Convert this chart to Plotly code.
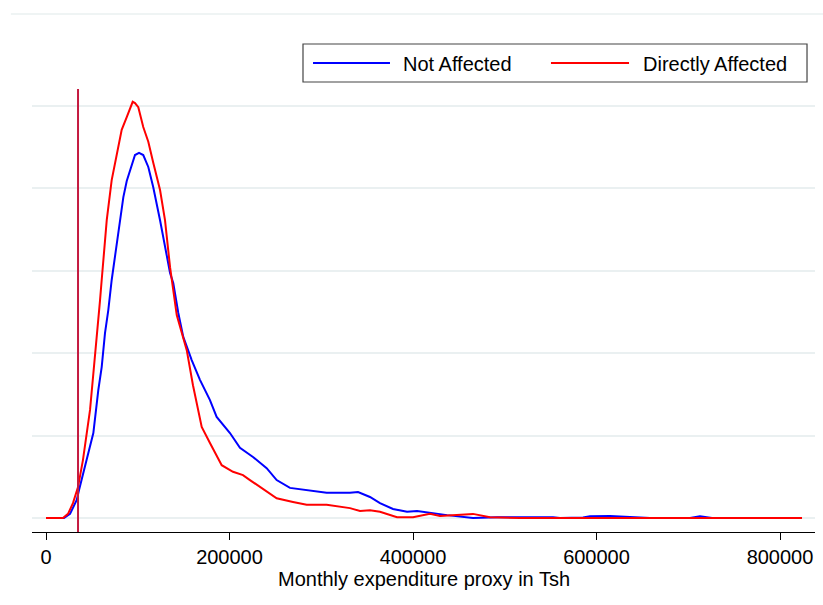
import plotly.graph_objects as go

# Monthly expenditure proxy (Tsh)
not_affected_x = [0, 19600, 26200, 33500, 36000, 44400, 51600, 57000, 60700, 64300,
                  67900, 71600, 78800, 84300, 88000, 91600, 97000, 101400, 106000, 111500, 116900,
                  124300, 129700, 135200, 138700, 144200, 149600, 158800, 167800, 178700, 186000,
                  200500, 211400, 225600, 240500, 251400, 265900, 284100, 305900, 331300, 340100,
                  353100, 364000, 378200, 393500, 404400, 418500, 437100, 465400, 491600, 552600,
                  560200, 585300, 592900, 614700, 625600, 645200, 658300, 701900, 712800, 725900]
# density (x 1e-6)
not_affected_y = [0, 0, 0.10, 0.44, 0.68, 1.41, 2.06, 3.10, 3.66, 4.48,
                  5.04, 5.77, 6.98, 7.78, 8.17, 8.44, 8.80, 8.85, 8.80, 8.51, 8.02,
                  7.22, 6.57, 5.94, 5.70, 4.97, 4.39, 3.83, 3.35, 2.86, 2.45,
                  2.06, 1.70, 1.48, 1.21, 0.92, 0.73, 0.68, 0.61, 0.61, 0.63,
                  0.51, 0.36, 0.22, 0.15, 0.17, 0.12, 0.07, 0.0, 0.02, 0.02,
                  0.0, 0.01, 0.04, 0.05, 0.04, 0.03, 0.0, 0.0, 0.04, 0.0]

directly_x = [0, 18500, 24000, 29400, 34900, 40300, 48000, 51200, 55600, 58900,
              60700, 66200, 71600, 77100, 82500, 88000, 91600, 94500, 97000, 100600,
              106000, 111500, 116900, 124300, 129700, 133000, 135200, 142500, 153400, 160200,
              169700, 178700, 191500, 203800, 214700, 222300, 233200, 251400, 269200, 284100,
              305900, 320400, 331300, 342200, 353100, 364000, 382600, 400000, 418500, 429400,
              465400, 483900, 516600, 824000]
directly_y = [0, 0, 0.10, 0.36, 0.75, 1.41, 2.62, 3.35, 4.48, 5.28,
              5.77, 7.22, 8.19, 8.85, 9.41, 9.72, 9.94, 10.09, 10.06, 9.96,
              9.48, 9.12, 8.61, 7.95, 7.22, 6.50, 6.08, 4.92, 4.07, 3.22,
              2.21, 1.82, 1.28, 1.12, 1.04, 0.92, 0.75, 0.48, 0.39, 0.32,
              0.32, 0.27, 0.24, 0.17, 0.19, 0.15, 0.02, 0.02, 0.10, 0.05,
              0.10, 0.02, 0.0, 0.0]

poverty_line = 34900
x_ticks = [0, 200000, 400000, 600000, 800000]
x_tick_labels = ["0", "200000", "400000", "600000", "800000"]
y_grid = [0, 2, 4, 6, 8, 10]

FONT = "Liberation Sans, Arial, sans-serif"
GRID = "#eaf0f1"

fig = go.Figure()
fig.add_trace(go.Scatter(x=not_affected_x, y=not_affected_y, mode="lines",
                         line=dict(color="#0000ff", width=2), name="Not Affected"))
fig.add_trace(go.Scatter(x=directly_x, y=directly_y, mode="lines",
                         line=dict(color="#ff0000", width=2), name="Directly Affected"))

fig.add_shape(type="line", xref="x", yref="paper", x0=poverty_line, x1=poverty_line,
              y0=0, y1=1, line=dict(color="#c41a40", width=2))

# top frame line
fig.add_shape(type="line", xref="paper", yref="paper", x0=-0.027, x1=1.011,
              y0=1.1693, y1=1.1693, line=dict(color=GRID, width=1.5))

# legend (drawn manually)
fig.add_shape(type="rect", xref="paper", yref="paper", x0=0.3461, x1=0.9898,
              y0=1.0158, y1=1.1016, line=dict(color="#444444", width=1.2),
              fillcolor="white")
fig.add_shape(type="line", xref="paper", yref="paper", x0=0.3589, x1=0.4572,
              y0=1.0587, y1=1.0587, line=dict(color="#0000ff", width=2))
fig.add_shape(type="line", xref="paper", yref="paper", x0=0.6628, x1=0.7625,
              y0=1.0587, y1=1.0587, line=dict(color="#ff0000", width=2))
fig.add_annotation(text="Not Affected", xref="paper", yref="paper", x=0.4712, y=1.0564,
                   xanchor="left", yanchor="middle", showarrow=False,
                   font=dict(family=FONT, size=20, color="#000"))
fig.add_annotation(text="Directly Affected", xref="paper", yref="paper", x=0.7775, y=1.0564,
                   xanchor="left", yanchor="middle", showarrow=False,
                   font=dict(family=FONT, size=20, color="#000"))

fig.add_annotation(text="Monthly expenditure proxy in Tsh", xref="paper", yref="paper",
                   x=0.5, y=-0.1072, xanchor="center", yanchor="middle", showarrow=False,
                   font=dict(family=FONT, size=20, color="#000"))

fig.update_layout(
    width=823, height=605,
    margin=dict(l=32, r=8, t=89, b=73),
    paper_bgcolor="white", plot_bgcolor="white",
    showlegend=False,
    font=dict(family=FONT, size=20, color="#000"),
    xaxis=dict(range=[-15259, 838147], tickvals=x_ticks, ticktext=x_tick_labels,
               showgrid=False, zeroline=False, showline=True, linecolor="#000",
               linewidth=1.2, ticks="outside", ticklen=7, tickwidth=1.2, tickcolor="#000",
               tickfont=dict(family=FONT, size=20, color="#000")),
    yaxis=dict(range=[-0.339, 10.4], tickvals=y_grid, showticklabels=False,
               showgrid=True, gridcolor=GRID, gridwidth=1.5, zeroline=False,
               showline=False, ticks=""),
)

fig.write_html("out.html")
